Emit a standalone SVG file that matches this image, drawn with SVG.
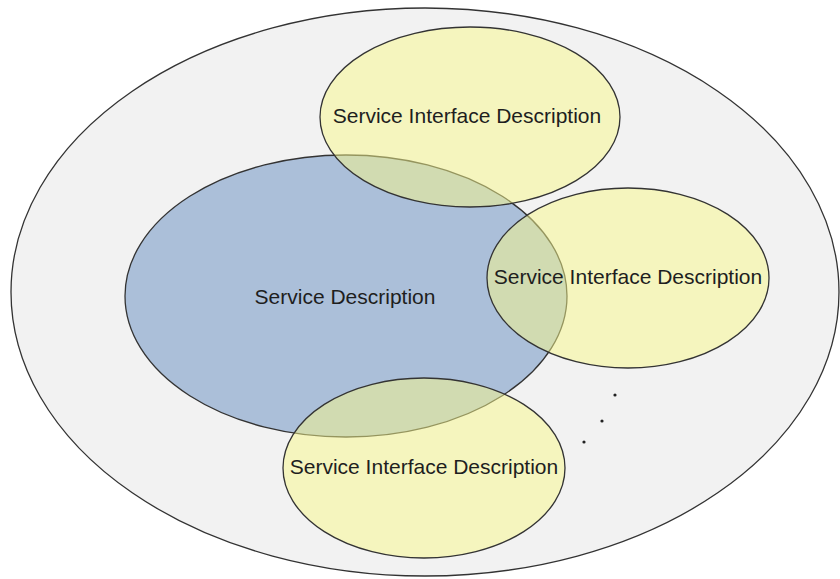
<svg xmlns="http://www.w3.org/2000/svg" width="840" height="579" viewBox="0 0 840 579">
  <style>
    .outline { stroke: #333; stroke-width: 1.3; }
    .iface { fill: #f8f88a; fill-opacity: 0.5; }
    .label { font-family: "Liberation Sans", Arial, sans-serif; font-size: 21px; fill: #1e1e1e; text-anchor: middle; dominant-baseline: central; }
    .dot { fill: #222; }
  </style>
  <rect width="840" height="579" fill="#ffffff"/>
  <g id="domain">
    <ellipse class="outline" cx="425" cy="292" rx="414" ry="284" fill="#f2f2f2"/>
  </g>
  <g id="service-description">
    <ellipse class="outline" cx="346" cy="296" rx="221" ry="141" fill="#abbfd9"/>
  </g>
  <g id="interface-top">
    <ellipse class="outline iface" cx="470" cy="117" rx="150" ry="90"/>
  </g>
  <g id="interface-right">
    <ellipse class="outline iface" cx="628" cy="278" rx="141" ry="90"/>
  </g>
  <g id="interface-bottom">
    <ellipse class="outline iface" cx="424" cy="468" rx="141" ry="90"/>
  </g>
  <g id="labels">
    <text class="label" x="345" y="296">Service Description</text>
    <text class="label" x="467" y="115">Service Interface Description</text>
    <text class="label" x="628" y="276">Service Interface Description</text>
    <text class="label" x="424" y="466">Service Interface Description</text>
  </g>
  <g id="ellipsis">
    <circle class="dot" cx="615" cy="395" r="1.6"/>
    <circle class="dot" cx="602" cy="421" r="1.6"/>
    <circle class="dot" cx="584" cy="442" r="1.6"/>
  </g>
</svg>
